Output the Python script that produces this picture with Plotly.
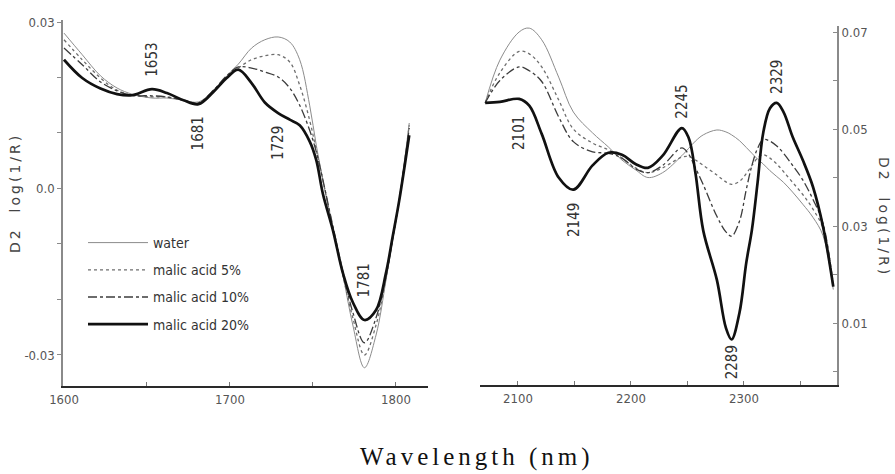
import plotly.graph_objects as go

# ---- spectra: second-derivative log(1/R), 1600-1810 nm band ----
wl_a = [1600, 1611, 1622, 1632, 1641, 1653, 1662, 1672, 1681, 1690, 1698, 1705,
        1713, 1721, 1729, 1736, 1742, 1748, 1752, 1756, 1762, 1768, 1774, 1781,
        1788, 1794, 1798, 1802, 1808]
water_a = [0.0280, 0.0241, 0.0203, 0.0181, 0.0170, 0.0163, 0.0163, 0.0159, 0.0156,
           0.0177, 0.0203, 0.0224, 0.0253, 0.0268, 0.0273, 0.0264, 0.0232, 0.0150,
           0.0078, 0.0015, -0.0075, -0.0156, -0.0246, -0.0323, -0.0264, -0.0165,
           -0.0093, -0.0021, 0.0118]
malic5_a = [0.0268, 0.0232, 0.0199, 0.0177, 0.0168, 0.0165, 0.0165, 0.0159, 0.0154,
            0.0177, 0.0201, 0.0217, 0.0232, 0.0239, 0.0241, 0.0228, 0.0186, 0.0123,
            0.0069, 0.0015, -0.0071, -0.0156, -0.0233, -0.0300, -0.0246, -0.0161,
            -0.0093, -0.0021, 0.0114]
malic10_a = [0.0253, 0.0223, 0.0192, 0.0176, 0.0168, 0.0167, 0.0165, 0.0159, 0.0154,
             0.0177, 0.0203, 0.0219, 0.0217, 0.0210, 0.0201, 0.0181, 0.0150, 0.0105,
             0.0066, 0.0015, -0.0068, -0.0150, -0.0223, -0.0278, -0.0233, -0.0157,
             -0.0089, -0.0021, 0.0109]
malic20_a = [0.0232, 0.0199, 0.0180, 0.0170, 0.0168, 0.0179, 0.0172, 0.0159, 0.0152,
             0.0174, 0.0199, 0.0214, 0.0190, 0.0155, 0.0136, 0.0124, 0.0114, 0.0085,
             0.0051, -0.0010, -0.0075, -0.0152, -0.0205, -0.0237, -0.0219, -0.0152,
             -0.0087, -0.0021, 0.0096]

# ---- spectra: 2070-2380 nm band ----
wl_b = [2071, 2084, 2101, 2110, 2121, 2136, 2149, 2166, 2180, 2192, 2204, 2215,
        2228, 2245, 2251, 2257, 2264, 2276, 2284, 2289, 2296, 2302, 2307, 2312,
        2317, 2323, 2329, 2335, 2343, 2352, 2361, 2370, 2379]
water_b = [0.0554, 0.0642, 0.0700, 0.0708, 0.0684, 0.0607, 0.0535, 0.0492, 0.0463,
           0.0436, 0.0416, 0.0400, 0.0410, 0.0445, 0.0460, 0.0475, 0.0488, 0.0498,
           0.0494, 0.0488, 0.0476, 0.0462, 0.0450, 0.0438, 0.0428, 0.0414, 0.0402,
           0.0390, 0.0370, 0.0345, 0.0318, 0.0280, 0.0169]
malic5_b = [0.0554, 0.0616, 0.0660, 0.0655, 0.0628, 0.0560, 0.0500, 0.0471, 0.0457,
            0.0440, 0.0420, 0.0410, 0.0420, 0.0442, 0.0443, 0.0436, 0.0425, 0.0405,
            0.0391, 0.0386, 0.0392, 0.0408, 0.0425, 0.0440, 0.0447, 0.0440, 0.0428,
            0.0412, 0.0390, 0.0365, 0.0335, 0.0295, 0.0180]
malic10_b = [0.0554, 0.0600, 0.0628, 0.0620, 0.0598, 0.0525, 0.0474, 0.0453, 0.0450,
             0.0440, 0.0418, 0.0410, 0.0425, 0.0461, 0.0448, 0.0420, 0.0385, 0.0320,
             0.0288, 0.0279, 0.0310, 0.0375, 0.0425, 0.0460, 0.0478, 0.0475, 0.0465,
             0.0450, 0.0425, 0.0395, 0.0355, 0.0305, 0.0175]
malic20_b = [0.0554, 0.0556, 0.0562, 0.0548, 0.0490, 0.0400, 0.0375, 0.0425, 0.0451,
             0.0447, 0.0428, 0.0420, 0.0445, 0.0502, 0.0482, 0.0410, 0.0290, 0.0189,
             0.0090, 0.0066, 0.0121, 0.0224, 0.0292, 0.0389, 0.0492, 0.0543, 0.0554,
             0.0535, 0.0484, 0.0436, 0.0381, 0.0298, 0.0175]

series_names = ["water", "malic acid 5%", "malic acid 10%", "malic acid 20%"]
band_a = [water_a, malic5_a, malic10_a, malic20_a]
band_b = [water_b, malic5_b, malic10_b, malic20_b]

# peak / valley markers
peaks_a = [1653, 1681, 1729, 1781]
peaks_b = [2101, 2149, 2245, 2289, 2329]

# tick labels
xticks_a = [1600, 1650, 1700, 1750, 1800]
xtext_a = ["1600", "", "1700", "", "1800"]
yticks_a = [0.03, 0.02, 0.01, 0.0, -0.01, -0.02, -0.03]
ytext_a = ["0.03", "", "", "0.0", "", "", "-0.03"]
xticks_b = [2100, 2150, 2200, 2250, 2300, 2350]
xtext_b = ["2100", "", "2200", "", "2300", ""]
yticks_b = [0.07, 0.06, 0.05, 0.04, 0.03, 0.02, 0.01, 0.0]
ytext_b = ["0.07", "", "0.05", "", "0.03", "", "0.01", ""]

line_styles = [
    dict(color="#8c8c8c", width=1.0, dash="solid"),
    dict(color="#6e6e6e", width=1.3, dash="dot"),
    dict(color="#3c3c3c", width=1.3, dash="dashdot"),
    dict(color="#111111", width=2.7, dash="solid"),
]

W, H = 895, 474
NARROW = "Liberation Sans Narrow, DejaVu Sans Condensed, Arial Narrow, sans-serif"
TICK_FONT = dict(family=NARROW, size=13, color="#555555")
LABEL_FONT = dict(family=NARROW, size=15, color="#333333")

fig = go.Figure()

for i, name in enumerate(series_names):
    fig.add_trace(go.Scatter(
        x=wl_a, y=band_a[i], mode="lines", name=name,
        line=dict(shape="spline", smoothing=1.0, **line_styles[i]),
        legendgroup=name, xaxis="x", yaxis="y"))
for i, name in enumerate(series_names):
    fig.add_trace(go.Scatter(
        x=wl_b, y=band_b[i], mode="lines", name=name, showlegend=False,
        line=dict(shape="spline", smoothing=1.0, **line_styles[i]),
        legendgroup=name, xaxis="x2", yaxis="y2"))


def px_x(p):
    return p / W


def px_y(p):
    return 1 - p / H


axis_common = dict(showgrid=False, zeroline=False, showline=True, mirror=False,
                   automargin=False, tickfont=TICK_FONT, ticklen=4,
                   tickwidth=1, tickmode="array", fixedrange=True)

fig.update_layout(
    width=W, height=H,
    margin=dict(l=0, r=0, t=0, b=0),
    paper_bgcolor="white", plot_bgcolor="white",
    xaxis=dict(domain=[px_x(63), px_x(428)], range=[1599.4, 1819.3], anchor="y",
               tickvals=xticks_a, ticktext=xtext_a, linecolor="#2a2a2a", linewidth=2,
               tickcolor="#777777", ticks="inside", **axis_common),
    yaxis=dict(domain=[px_y(386), px_y(20)], range=[-0.03559, 0.03036], anchor="x",
               tickvals=yticks_a, ticktext=ytext_a, linecolor="#8a8a8a", linewidth=1.5,
               tickcolor="#8a8a8a", ticks="outside", **axis_common),
    xaxis2=dict(domain=[px_x(480), px_x(837)], range=[2066.4, 2382.3], anchor="y2",
                tickvals=xticks_b, ticktext=xtext_b, linecolor="#2a2a2a", linewidth=2,
                tickcolor="#777777", ticks="inside", **axis_common),
    yaxis2=dict(domain=[px_y(385), px_y(26)], range=[-0.00278, 0.07124], anchor="x2",
                side="right", tickvals=yticks_b, ticktext=ytext_b, linecolor="#8a8a8a",
                linewidth=2, tickcolor="#8a8a8a", ticks="inside", **axis_common),
    legend=dict(x=px_x(83), y=px_y(227), xanchor="left", yanchor="top",
                bgcolor="rgba(0,0,0,0)", borderwidth=0, itemwidth=60,
                tracegroupgap=6, traceorder="grouped",
                font=dict(family=NARROW, size=14, color="#333333")),
    showlegend=True,
)

# peak / valley wavelength labels
label_y_a = [0.0232, 0.0100, 0.0082, -0.0165]
for wl, yv in zip(peaks_a, label_y_a):
    fig.add_annotation(x=wl, y=yv, xref="x", yref="y", text=str(wl), showarrow=False,
                       textangle=-90, font=LABEL_FONT)
label_y_b = [0.0492, 0.0313, 0.0556, 0.0018, 0.0607]
for wl, yv in zip(peaks_b, label_y_b):
    fig.add_annotation(x=wl, y=yv, xref="x2", yref="y2", text=str(wl), showarrow=False,
                       textangle=-90, font=LABEL_FONT)

TITLE_FONT = dict(family="DejaVu Sans, sans-serif", size=14, color="#444444")
fig.add_annotation(x=px_x(15), y=px_y(193), xref="paper", yref="paper",
                   xanchor="center", yanchor="middle",
                   text='<span style="letter-spacing:3px">D2  log(1/R)</span>',
                   showarrow=False, textangle=-90, font=TITLE_FONT)
fig.add_annotation(x=px_x(884), y=px_y(217), xref="paper", yref="paper",
                   xanchor="center", yanchor="middle",
                   text='<span style="letter-spacing:3px">D2  log(1/R)</span>',
                   showarrow=False, textangle=90, font=TITLE_FONT)
fig.add_annotation(x=px_x(477), y=px_y(457), xref="paper", yref="paper",
                   xanchor="center", yanchor="middle",
                   text='<span style="letter-spacing:4px">Wavelength (nm)</span>',
                   showarrow=False,
                   font=dict(family="Liberation Serif, Times New Roman, serif", size=25,
                             color="#111111"))

fig.write_html("out.html")
